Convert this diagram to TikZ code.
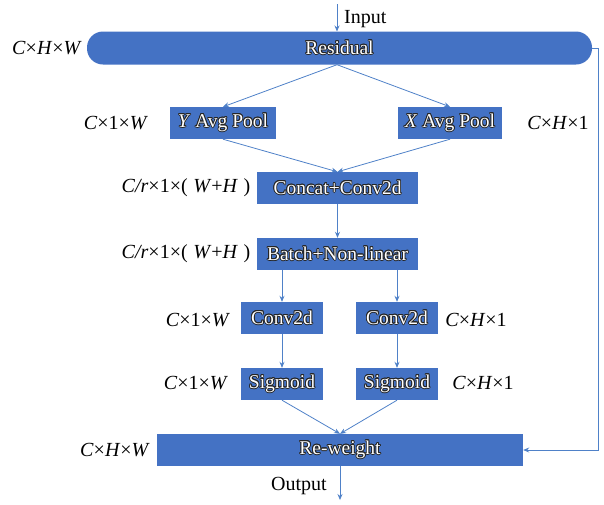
\documentclass[tikz,border=0pt]{standalone}
\usepackage{fontspec}
\setmainfont{Liberation Serif}
\usepackage[copies]{contour}
\contourlength{0.8pt}
\contournumber{12}
\usetikzlibrary{arrows.meta}
\definecolor{boxblue}{RGB}{68,114,196}
\definecolor{lineblue}{RGB}{79,129,200}
\newcommand{\btxt}[1]{\textcolor{white}{\contour{black!85}{#1}}}
\tikzset{
  box/.style={fill=boxblue, draw=none, inner sep=0pt, font=\fontsize{19.5}{21}\selectfont},
  conn/.style={draw=lineblue, line width=0.8pt, -{Stealth[length=6pt,width=5pt]}},
  lbl/.style={font=\fontsize{20}{22}\selectfont, inner sep=0pt}
}
\begin{document}
\begin{tikzpicture}[x=1pt,y=-1pt]
\useasboundingbox (0,0) rectangle (604,504);
% boxes
\node[box, rounded corners=16pt, minimum width=505pt, minimum height=33pt] (res) at (339.5,48) {\btxt{Residual}};
\node[box, minimum width=106pt, minimum height=32pt] (yp) at (223,123) {\btxt{\textit{Y} Avg Pool}};
\node[box, minimum width=104pt, minimum height=32pt] (xp) at (450,123) {\btxt{\textit{X} Avg Pool}};
\node[box, minimum width=161pt, minimum height=32pt] (cc) at (337.5,188) {\btxt{Concat+Conv2d}};
\node[box, minimum width=161pt, minimum height=32pt] (bn) at (337.5,254) {\btxt{Batch+Non-linear}};
\node[box, minimum width=82pt, minimum height=32pt] (cl) at (282,318) {\btxt{Conv2d}};
\node[box, minimum width=82pt, minimum height=32pt] (cr) at (397,318) {\btxt{Conv2d}};
\node[box, minimum width=82pt, minimum height=32pt] (sl) at (282,384) {\btxt{Sigmoid}};
\node[box, minimum width=82pt, minimum height=32pt] (sr) at (397,384) {\btxt{Sigmoid}};
\node[box, minimum width=366pt, minimum height=32pt] (rw) at (340,450) {\btxt{Re-weight}};
% labels
\node[lbl] (l0) at (47,48) {\textit{C}×\textit{H}×\textit{W}};
\node[lbl] (l1) at (116,123) {\textit{C}×1×\textit{W}};
\node[lbl] (l2) at (558,123) {\textit{C}×\textit{H}×1};
\node[lbl] (l3) at (186,188) {\textit{C/r}×1×(\;\textit{W}+\textit{H}\;)};
\node[lbl] (l4) at (186,254) {\textit{C/r}×1×(\;\textit{W}+\textit{H}\;)};
\node[lbl] (l5) at (198,320) {\textit{C}×1×\textit{W}};
\node[lbl] (l6) at (476,320) {\textit{C}×\textit{H}×1};
\node[lbl] (l7) at (196,383) {\textit{C}×1×\textit{W}};
\node[lbl] (l8) at (483,383) {\textit{C}×\textit{H}×1};
\node[lbl] (l9) at (115,450) {\textit{C}×\textit{H}×\textit{W}};
\node[lbl, anchor=west] (lin) at (344,19) {Input};
\node[lbl] (lout) at (299,486) {Output};
% coordinates
\coordinate (in) at (337,4);
\coordinate (out) at (340,500);
\coordinate (r1) at (598,48);
\coordinate (r2) at (598,450);
% connectors
\draw[conn] (in) -- (337,31.5);
\draw[conn] (res.south -| 337,0) -- (yp.north);
\draw[conn] (res.south -| 337,0) -- (xp.north);
\draw[conn] (yp.south) -- (cc.north);
\draw[conn] (xp.south) -- (cc.north);
\draw[conn] (cc.south) -- (bn.north);
\draw[conn] (bn.south -| cl.north) -- (cl.north);
\draw[conn] (bn.south -| cr.north) -- (cr.north);
\draw[conn] (cl.south) -- (sl.north);
\draw[conn] (cr.south) -- (sr.north);
\draw[conn] (sl.south) -- (rw.north);
\draw[conn] (sr.south) -- (rw.north);
\draw[conn] (res.east) -- (r1) -- (r2) -- (rw.east);
\draw[conn] (rw.south) -- (out);
\end{tikzpicture}
\end{document}
